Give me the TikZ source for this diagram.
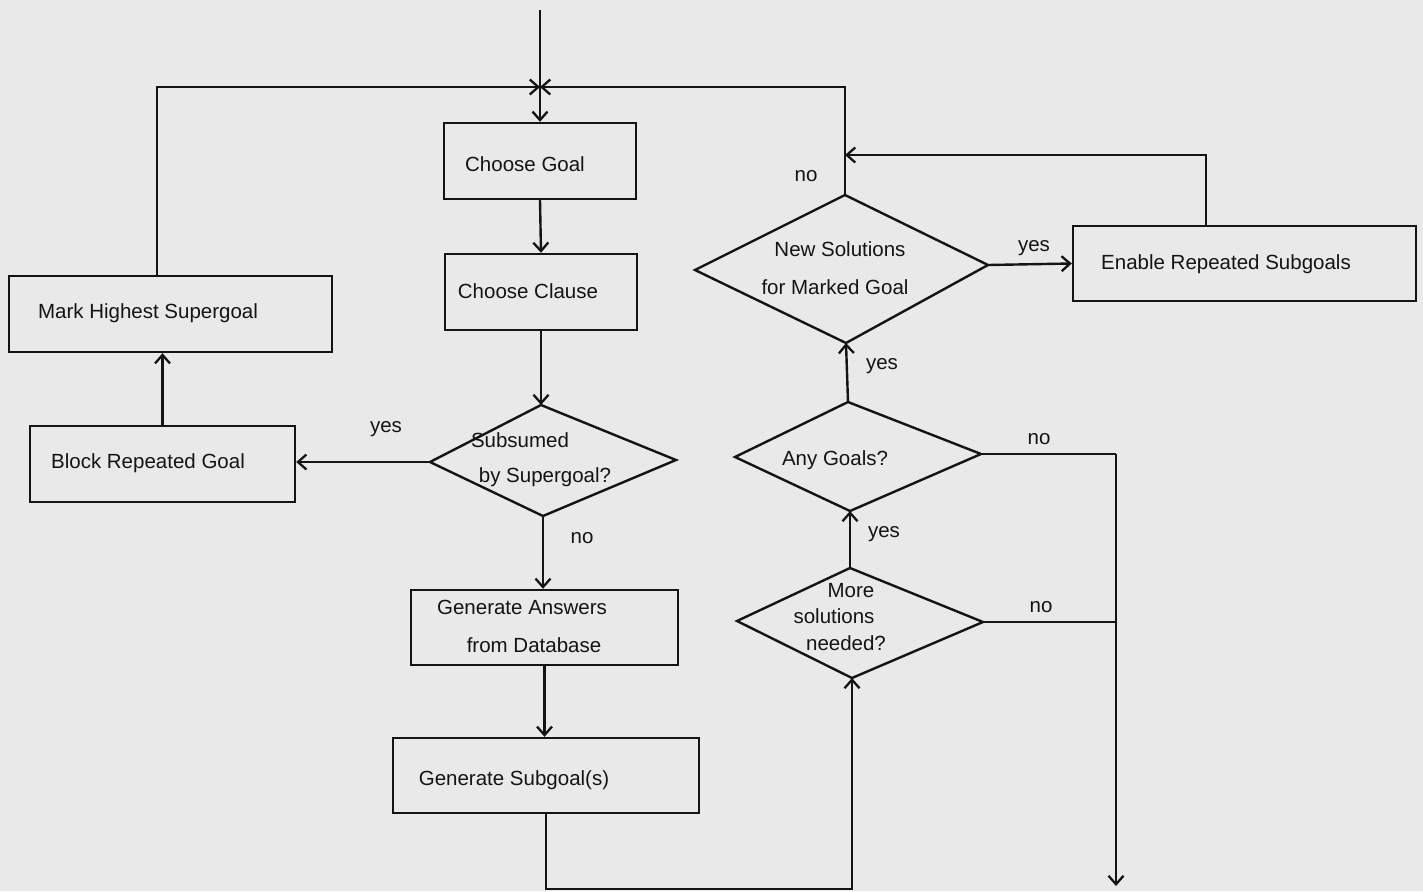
\documentclass[tikz,border=0pt]{standalone}
\usepackage{fontspec}
\setmainfont{Liberation Sans}
\usetikzlibrary{arrows.meta}
\definecolor{paper}{rgb}{0.915,0.915,0.915}
\definecolor{ink}{rgb}{0.08,0.08,0.08}
\begin{document}
\begin{tikzpicture}[x=1pt,y=-1pt, color=ink, line width=2.4pt,
  arr/.style={-{Straight Barb[length=8.5pt,width=15pt,line width=2.3pt]}},
  box/.style={draw=ink, line width=2.4pt, rectangle, inner sep=0pt},
  txt/.style={inner sep=0pt, font=\fontsize{20.5}{24}\selectfont, text=ink},
  lbl/.style={inner sep=0pt, font=\fontsize{20.5}{24}\selectfont, text=ink}]
\fill[paper] (0,0) rectangle (1423,891);
\useasboundingbox (0,0) rectangle (1423,891);

% boxes
\node[box, minimum width=192pt, minimum height=76pt] (cg) at (540,161) {};
\node[box, minimum width=192pt, minimum height=76pt] (cc) at (541,292) {};
\node[box, minimum width=323pt, minimum height=76pt] (mh) at (170.5,314) {};
\node[box, minimum width=265pt, minimum height=76pt] (br) at (162.5,464) {};
\node[box, minimum width=267pt, minimum height=75pt] (ga) at (544.5,627.5) {};
\node[box, minimum width=306pt, minimum height=75pt] (gs) at (546,775.5) {};
\node[box, minimum width=343pt, minimum height=75pt] (en) at (1244.5,263.5) {};

% box texts
\node[txt] (cgT) at (525,164) {Choose Goal};
\node[txt] (ccT) at (528,291) {Choose Clause};
\node[txt] (mhT) at (148,313) {Mark Highest Supergoal};
\node[txt] (brT) at (148,463) {Block Repeated Goal};
\node[txt] (gaT1) at (522,607) {Generate Answers};
\node[txt] (gaT2) at (534,645) {from Database};
\node[txt] (gsT) at (514,780) {Generate Subgoal(s)};
\node[txt] (enT) at (1226,264) {Enable Repeated Subgoals};

% diamonds
\coordinate (sL) at (430,462); \coordinate (sT) at (541,405);
\coordinate (sR) at (676,460); \coordinate (sB) at (543,516);
\draw (sL) -- (sT) -- (sR) -- (sB) -- cycle;
\coordinate (nL) at (695,270); \coordinate (nT) at (845,195);
\coordinate (nR) at (988,265); \coordinate (nB) at (846,343);
\draw (nL) -- (nT) -- (nR) -- (nB) -- cycle;
\coordinate (aL) at (735,457); \coordinate (aT) at (848,402);
\coordinate (aR) at (981,454); \coordinate (aB) at (850,511);
\draw (aL) -- (aT) -- (aR) -- (aB) -- cycle;
\coordinate (mL) at (737,621); \coordinate (mT) at (850,568);
\coordinate (mR) at (983,622); \coordinate (mB) at (852,678);
\draw (mL) -- (mT) -- (mR) -- (mB) -- cycle;

% diamond texts
\node[txt] (sT1) at (520,440) {Subsumed};
\node[txt] (sT2) at (545,477) {by Supergoal?};
\node[txt] (nT1) at (840,249) {New Solutions};
\node[txt] (nT2) at (835,287) {for Marked Goal};
\node[txt] (aTx) at (835,460) {Any Goals?};
\node[txt] (mT1) at (851,591) {More};
\node[txt] (mT2) at (834,616) {solutions};
\node[txt] (mT3) at (846,643) {needed?};

% labels
\node[lbl] (l1) at (386,429) {yes};
\node[lbl] (l2) at (582,538) {no};
\node[lbl] (l3) at (884,534) {yes};
\node[lbl] (l4) at (882,366) {yes};
\node[lbl] (l5) at (806,176) {no};
\node[lbl] (l6) at (1034,248) {yes};
\node[lbl] (l7) at (1039,439) {no};
\node[lbl] (l8) at (1041,607) {no};

% connector points
\coordinate (start) at (540,10);
\coordinate (junc) at (540,87);
\coordinate (nJ) at (845,155);
\coordinate (rail) at (1116,454);
\coordinate (railM) at (1116,622);
\coordinate (endP) at (1116,886);

% connectors
\draw[arr] (start) -- (cg.north);
\draw[arr] ([xshift=-13.5pt]mh.north) |- (junc);
\draw[arr] (nT) |- (junc);
\draw[arr] ([xshift=-38.5pt]en.north) |- (nJ);
\draw[arr] (cg.south) -- (cc.north);
\draw[arr] (cc.south) -- (sT);
\draw[arr] (sL) -- (br.east |- sL);
\draw[arr] (br.north) -- (br.north |- mh.south);
\draw[arr] (sB) -- (sB |- ga.north);
\draw[arr] (ga.south) -- (ga.south |- gs.north);
\draw[arr] (gs.south) -- ++(0,75) -| (mB);
\draw[arr] (mT) -- (aB);
\draw[arr] (aT) -- (nB);
\draw[arr] (nR) -- (en.west);
\draw (aR) -- (rail);
\draw (mR) -- (railM);
\draw[arr] (rail) -- (endP);
\end{tikzpicture}
\end{document}
